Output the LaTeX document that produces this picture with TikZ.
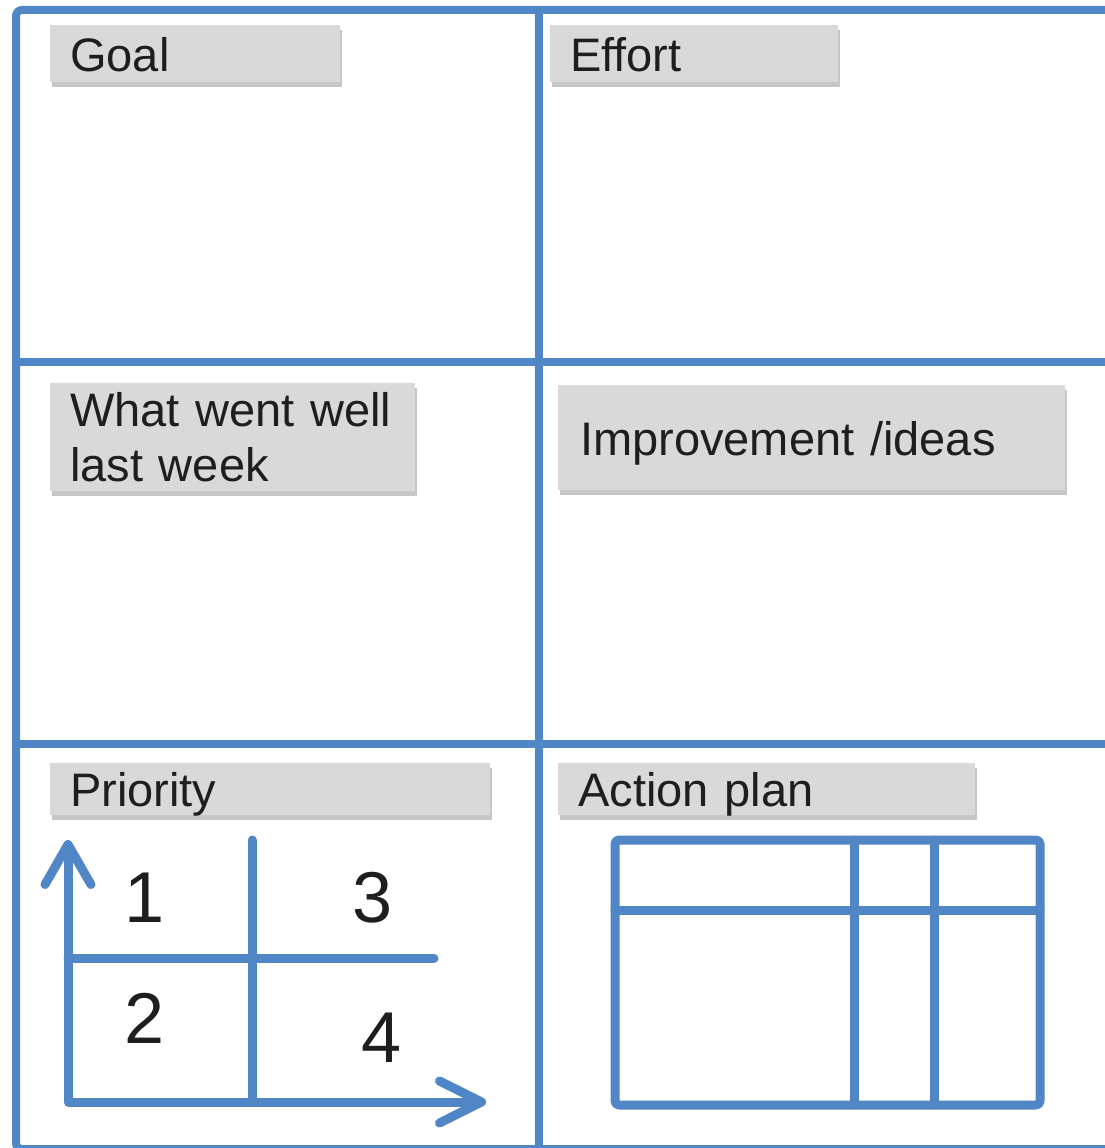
\documentclass[tikz,border=0pt]{standalone}
\usepackage{fontspec}
\setmainfont{Liberation Sans}
\usepackage{tikz}
\usetikzlibrary{arrows.meta, positioning, shadows, calc}
\definecolor{boardblue}{RGB}{80,134,197}
\definecolor{boxgrey}{RGB}{217,217,217}
\definecolor{ink}{RGB}{30,30,30}
\tikzstyle{board} = [draw=boardblue, line width=8pt]
\tikzstyle{chart} = [draw=boardblue, line width=9pt, line cap=round, line join=round]
\tikzstyle{labelbox} = [fill=boxgrey, anchor=north west, inner xsep=20pt, inner ysep=0pt, align=left, text=ink, font=\fontsize{47}{55}\selectfont, drop shadow={shadow xshift=2pt, shadow yshift=-5pt, opacity=0.45}]
\tikzstyle{onebox} = [labelbox, text height=35pt, text depth=0pt]
\tikzstyle{digit} = [font=\fontsize{72}{80}\selectfont, text=ink]

\begin{document}
\begin{tikzpicture}[x=1pt, y=-1pt, >=latex]

    \useasboundingbox (0,0) rectangle (1105,1148);

    % The board
    \draw [board, rounded corners=6pt] (16,10) rectangle (1125,1149);
    \draw [board] (539,10) -- (539,1149);
    \draw [board] (16,362) -- (1125,362);
    \draw [board] (16,744) -- (1125,744);

    % Headings
    \node (goal) [onebox, text width=250, minimum height=57] at (50,25) {Goal};
    \node (effort) [onebox, text width=248, minimum height=57] at (550,25) {Effort};
    \node (well) [labelbox, text width=325, minimum height=108] at (50,383) {What went well\\last week};
    \node (ideas) [onebox, inner xsep=22pt, text width=463, minimum height=105] at (558,385) {Improvement /ideas};
    \node (priority) [onebox, text width=400, minimum height=52] at (50,763) {Priority};
    \node (plan) [onebox, text width=377, minimum height=52] at (558,763) {Action plan};

    % The priority chart
    \coordinate (origin) at (68,1102);
    \coordinate (ytip) at (68,840);
    \coordinate (xtip) at (486,1102);
    \coordinate (midtop) at (252,840);
    \coordinate (midbottom) at (252,1102);
    \coordinate (midleft) at (68,958);
    \coordinate (midright) at (434,958);
    \draw [chart, {Straight Barb[length=40pt, width=46pt, round]}-{Straight Barb[length=42pt, width=42pt, round]}] (ytip) -- (origin) -- (xtip);
    \draw [chart] (midtop) -- (midbottom);
    \draw [chart] (midleft) -- (midright);

    \node (one) [digit] at (145,898) {1};
    \node (three) [digit] at (373,898) {3};
    \node (two) [digit] at (145,1018) {2};
    \node (four) [digit] at (382,1038) {4};

    % The action plan table
    \draw [chart, rounded corners=4pt] (615,840) rectangle (1040,1105);
    \draw [chart] (615,910) -- (1040,910);
    \draw [chart] (854,840) -- (854,1105);
    \draw [chart] (934,840) -- (934,1105);

\end{tikzpicture}
\end{document}
